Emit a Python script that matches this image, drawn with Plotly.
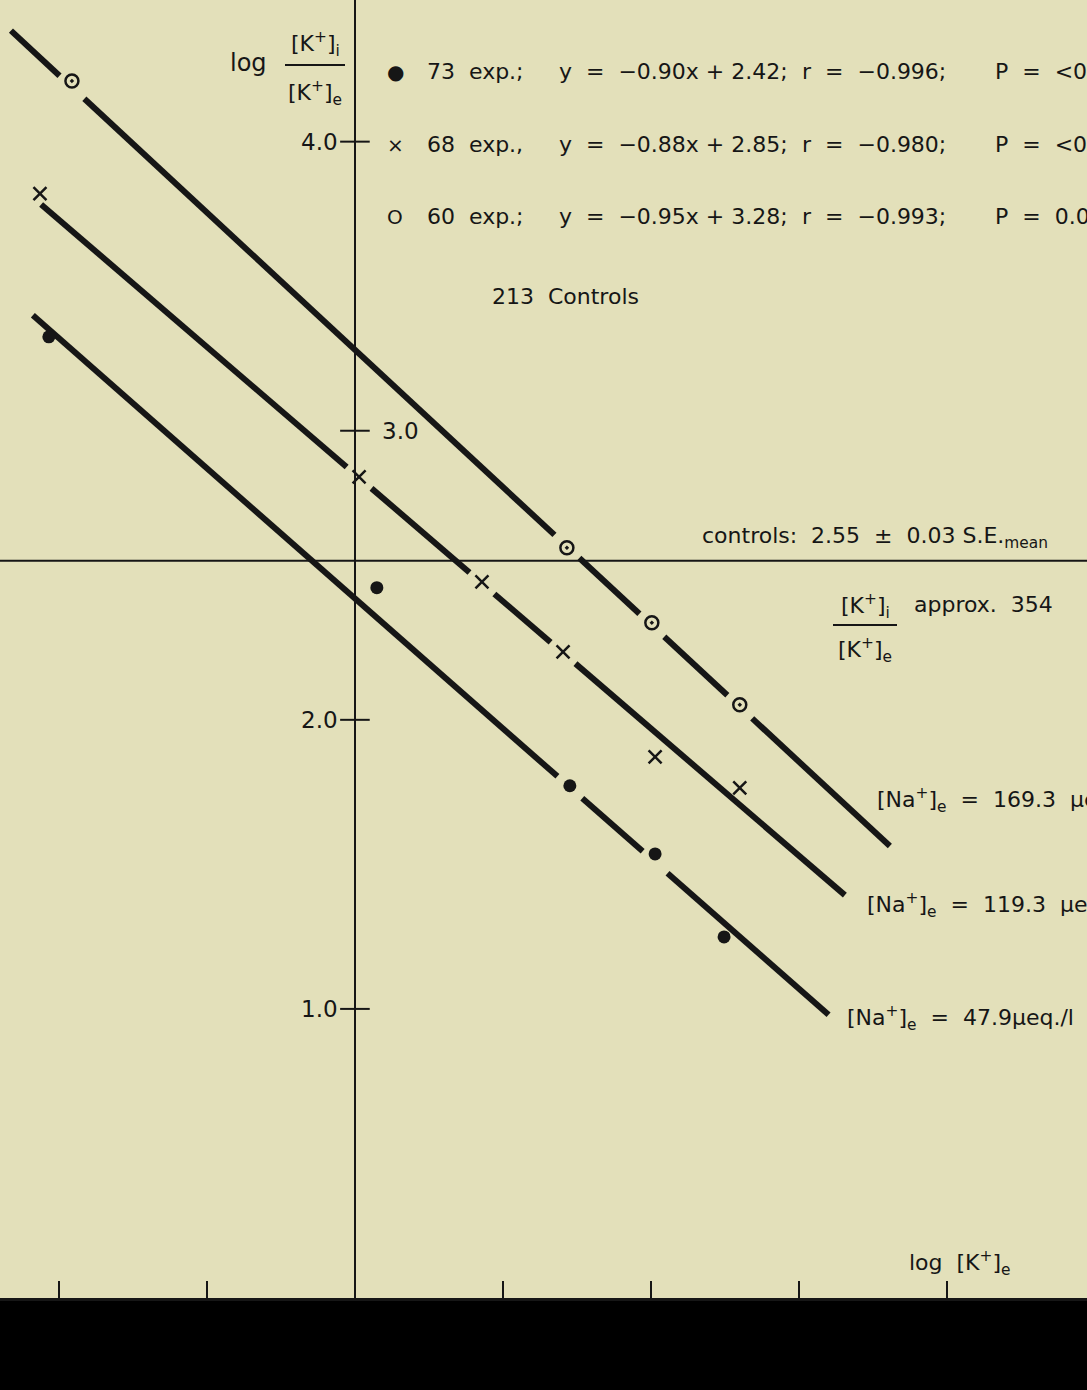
import plotly.graph_objects as go

# ---------------- data ----------------
# x = log [K+]e , y = log [K+]i/[K+]e
filled_x = [-1.034, 0.074, 0.726, 1.014, 1.247]          # [Na+]e = 47.9
filled_y = [3.325, 2.457, 1.772, 1.536, 1.249]
cross_x = [-1.064, 0.014, 0.429, 0.703, 1.014, 1.300]    # [Na+]e = 119.3
cross_y = [3.820, 2.840, 2.477, 2.235, 1.872, 1.765]
hollow_x = [-0.956, 0.716, 1.003, 1.300]                 # [Na+]e = 169.3
hollow_y = [4.210, 2.595, 2.336, 2.052]

# regression lines: slope, intercept, x-extent
filled_fit = (-0.90, 2.42, -1.088, 1.600)
cross_fit = (-0.88, 2.85, -1.060, 1.655)
hollow_fit = (-0.95, 3.28, -1.162, 1.807)
# indices of points where the drawn line is interrupted
filled_gaps = [2, 3]
cross_gaps = [1, 2, 3]
hollow_gaps = [0, 1, 2, 3]

CONTROL_MEAN = 2.55
X_TICKS = [-1.0, -0.5, 0.5, 1.0, 1.5, 2.0]
Y_TICKS = [1.0, 2.0, 3.0, 4.0]
Y_TICK_LABELS = ["1.0", "2.0", "3.0", "4.0"]
X_RANGE = [-1.199, 2.473]
Y_RANGE = [0.0, 4.49]

BG = "#e3e0ba"
INK = "#161616"
FONT = "DejaVu Sans"
W, H, B = 1087, 1390, 92
PLOT_H = H - B


def segmented(fit, xs, gaps, half=0.042):
    m, b, x0, x1 = fit
    cuts = sorted(xs[i] for i in gaps)
    px, py = [], []
    start = x0
    for g in cuts:
        px += [start, g - half, None]
        py += [m * start + b, m * (g - half) + b, None]
        start = g + half
    px += [start, x1]
    py += [m * start + b, m * x1 + b]
    return px, py


fig = go.Figure()
for fit, xs, gaps in [(filled_fit, filled_x, filled_gaps),
                      (cross_fit, cross_x, cross_gaps),
                      (hollow_fit, hollow_x, hollow_gaps)]:
    lx, ly = segmented(fit, xs, gaps)
    fig.add_trace(go.Scatter(x=lx, y=ly, mode="lines",
                             line=dict(color=INK, width=6),
                             hoverinfo="skip", showlegend=False))

fig.add_trace(go.Scatter(x=filled_x, y=filled_y, mode="markers",
                         marker=dict(symbol="circle", size=13, color=INK),
                         showlegend=False))
fig.add_trace(go.Scatter(x=cross_x, y=cross_y, mode="markers",
                         marker=dict(symbol="x-thin", size=13,
                                     line=dict(color=INK, width=2.5)),
                         showlegend=False))
fig.add_trace(go.Scatter(x=hollow_x, y=hollow_y, mode="markers",
                         marker=dict(symbol="circle-open-dot", size=13, color=INK,
                                     line=dict(color=INK, width=2.5)),
                         showlegend=False))

shapes = []
# control mean line
shapes.append(dict(type="line", xref="paper", x0=0, x1=1, yref="y",
                   y0=CONTROL_MEAN, y1=CONTROL_MEAN,
                   line=dict(color=INK, width=2)))
# y-axis cross ticks
tick_half = 0.05
for yt in Y_TICKS:
    shapes.append(dict(type="line", xref="x", yref="y", x0=-tick_half, x1=tick_half,
                       y0=yt, y1=yt, line=dict(color=INK, width=2)))


def xp(px):
    return px / W


def yp(py):
    return 1 - py / PLOT_H


# fraction bars for the K ratio labels
for (xa, xb, yy) in [(285, 345, 65), (833, 897, 625)]:
    shapes.append(dict(type="line", xref="paper", yref="paper", x0=xp(xa), x1=xp(xb),
                       y0=yp(yy), y1=yp(yy), line=dict(color=INK, width=1.8)))
# dark strip at the bottom of the picture
shapes.append(dict(type="rect", xref="paper", yref="paper", x0=0, x1=1,
                   y0=-B / PLOT_H, y1=0, fillcolor="#000000", line=dict(width=0),
                   layer="below"))

ann = []


def txt(text, px, py, size=22, anchor="left"):
    ann.append(dict(text=text, x=xp(px), y=yp(py), xref="paper", yref="paper",
                    xanchor=anchor, yanchor="middle", showarrow=False,
                    font=dict(family=FONT, size=size, color=INK)))


# y tick labels (3.0 is written right of the axis)
for yt, lab in zip(Y_TICKS, Y_TICK_LABELS):
    py = PLOT_H * (1 - (yt - Y_RANGE[0]) / (Y_RANGE[1] - Y_RANGE[0]))
    if yt == 3.0:
        txt(lab, 380, py, size=23, anchor="left")
    else:
        txt(lab, 340, py, size=23, anchor="right")

# axis titles
txt("log", 248, 63, size=24, anchor="center")
txt("[K<sup>+</sup>]<sub>i</sub>", 315, 44, anchor="center")
txt("[K<sup>+</sup>]<sub>e</sub>", 315, 93, anchor="center")
txt("log  [K<sup>+</sup>]<sub>e</sub>", 907, 1263)

# legend block
rows = [
    ("●", "73  exp.;", "y  =  −0.90x + 2.42;", "r  =  −0.996;", "P  =  <0.001", 72),
    ("×", "68  exp.,", "y  =  −0.88x + 2.85;", "r  =  −0.980;", "P  =  <0.001", 145),
    ("O", "60  exp.;", "y  =  −0.95x + 3.28;", "r  =  −0.993;", "P  =  0.01", 217),
]
for sym, a, b, c, d, py in rows:
    txt(sym, 395, py, size=20, anchor="center")
    txt(a, 425, py)
    txt(b, 557, py)
    txt(c, 800, py)
    txt(d, 993, py)
txt("213  Controls", 490, 296)

# controls annotation
txt("controls:  2.55  ±  0.03 S.E.<sub>mean</sub>", 700, 537)
txt("[K<sup>+</sup>]<sub>i</sub>", 865, 606, anchor="center")
txt("[K<sup>+</sup>]<sub>e</sub>", 865, 650, anchor="center")
txt("approx.  354", 912, 604)

# sodium labels
txt("[Na<sup>+</sup>]<sub>e</sub>  =  169.3  µeq./l", 875, 800)
txt("[Na<sup>+</sup>]<sub>e</sub>  =  119.3  µeq./l", 865, 905)
txt("[Na<sup>+</sup>]<sub>e</sub>  =  47.9µeq./l", 845, 1018)

fig.update_layout(
    width=W, height=H, autosize=False,
    margin=dict(l=0, r=0, t=0, b=B),
    paper_bgcolor=BG, plot_bgcolor=BG,
    shapes=shapes, annotations=ann,
    xaxis=dict(range=X_RANGE, showgrid=False, zeroline=True, zerolinecolor=INK,
               zerolinewidth=2, showline=True, linecolor=INK, linewidth=2.5,
               ticks="inside", ticklen=17, tickwidth=2, tickcolor=INK,
               tickvals=X_TICKS, showticklabels=False, fixedrange=True),
    yaxis=dict(range=Y_RANGE, visible=False, showgrid=False, zeroline=False,
               fixedrange=True),
    font=dict(family=FONT, color=INK),
)

fig.write_html("out.html", config={"displayModeBar": False},
               post_script="document.body.style.margin='0';")
